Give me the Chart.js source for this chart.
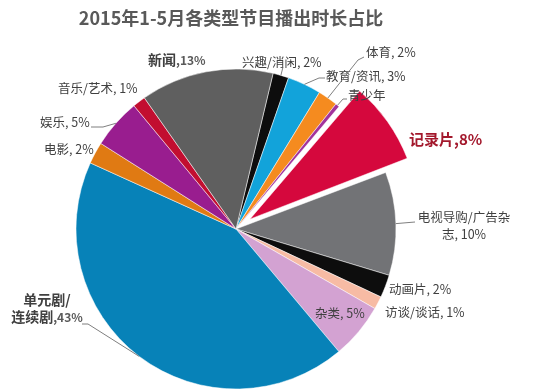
<!DOCTYPE html>
<html>
<head>
<meta charset="utf-8">
<script src="https://cdn.jsdelivr.net/npm/chart.js@4"></script>
<style>
  html, body { margin: 0; padding: 0; background: #fff; }
  #wrap { width: 535px; height: 389px; }
</style>
</head>
<body>
<div id="wrap"><canvas id="pieChart"></canvas></div>
<script>
// data (clockwise from the slice after 新闻)
const categories = ['兴趣/消闲', '教育/资讯', '体育', '青少年', '记录片', '电视导购/广告杂志', '动画片', '访谈/谈话', '杂类', '单元剧/连续剧', '电影', '娱乐', '音乐/艺术', '新闻'];
const shares = [1.6, 3.4, 2.0, 0.4, 8.1, 10.4, 2.3, 1.3, 5.6, 42.8, 2.2, 5.0, 1.3, 13.4];
const pctLabels = ['2%', '3%', '2%', '', '8%', '10%', '2%', '1%', '5%', '43%', '2%', '5%', '1%', '13%'];
const sliceColors = ['#0d0d0d', '#12a3da', '#f58b1f', '#a2339c', '#d5083d', '#727376', '#0d0d0d', '#f7bba4', '#d3a2d2', '#0782b8', '#e07a13', '#991d8f', '#c20e30', '#5f5f5f'];

// label placement, relative to the pie centre
const labelLayout = [
    { at: [6, -167], style: 'normal', leader: [[47, -162]] },
    { at: [90, -153], style: 'normal', leader: [[83, -151], [89, -151]] },
    { at: [130, -177], style: 'normal', leader: [[122, -169], [128, -172]] },
    { at: [112, -134], style: 'normal', leader: [[107, -130], [111, -130]] },
    { at: [173, -90], style: 'highlight' },
    { at: [228, -12], style: 'normal', align: 'center', wrap: 8, leader: [[179, -7]] },
    { at: [153, 60], style: 'normal' },
    { at: [149, 83], style: 'normal' },
    { at: [79, 84], style: 'normal' },
    { at: [-189, 71], style: 'bold', align: 'center', wrap: 4, leader: [[-148, 95], [-154, 95]] },
    { at: [-192, -80], style: 'normal' },
    { at: [-196, -107], style: 'normal', leader: [[-133, -102], [-145, -102]] },
    { at: [-178, -141], style: 'normal' },
    { at: [-88, -169], style: 'bold' }
];

const FONT = '"Noto Sans CJK SC", "Noto Sans", sans-serif';

function segmentsFor(i, text, isLast) {
    const st = labelLayout[i].style;
    const pct = pctLabels[i];
    if (st === 'highlight') {
        return [{ text: text + (isLast && pct ? ',' + pct : ''), font: 'bold 15px ' + FONT, color: '#a3182c' }];
    }
    if (st === 'bold') {
        const segs = [{ text: text, font: 'bold 14px ' + FONT, color: '#404040' }];
        if (isLast && pct) segs.push({ text: ',' + pct, font: 'bold 12px ' + FONT, color: '#595959' });
        return segs;
    }
    return [{ text: text + (isLast && pct ? ', ' + pct : ''), font: '12.5px ' + FONT, color: '#404040' }];
}

function drawRich(ctx, segs, x, y, align) {
    let total = 0;
    segs.forEach(s => { ctx.font = s.font; s.w = ctx.measureText(s.text).width; total += s.w; });
    let cx = align === 'center' ? x - total / 2 : x;
    segs.forEach(s => {
        ctx.font = s.font;
        ctx.fillStyle = s.color;
        ctx.fillText(s.text, cx, y);
        cx += s.w;
    });
}

const pieLabels = {
    id: 'pieLabels',
    afterDatasetsDraw(chart) {
        const ctx = chart.ctx;
        const meta = chart.getDatasetMeta(0);
        const offsets = chart.data.datasets[0].offset;
        ctx.save();
        ctx.textBaseline = 'middle';

        // title
        ctx.font = 'bold 18px ' + FONT;
        ctx.fillStyle = '#595959';
        ctx.textAlign = 'center';
        ctx.fillText('2015年1-5月各类型节目播出时长占比', 231, 18);
        ctx.textAlign = 'left';

        meta.data.forEach((arc, i) => {
            const lay = labelLayout[i];
            const cx = arc.x, cy = arc.y;
            const mid = (arc.startAngle + arc.endAngle) / 2;
            const shift = (offsets[i] || 0) / 4;

            if (lay.leader) {
                const sx = cx + Math.cos(mid) * (arc.outerRadius + shift);
                const sy = cy + Math.sin(mid) * (arc.outerRadius + shift);
                ctx.beginPath();
                ctx.moveTo(sx, sy);
                lay.leader.forEach(p => ctx.lineTo(cx + p[0], cy + p[1]));
                ctx.strokeStyle = '#7f7f7f';
                ctx.lineWidth = 1;
                ctx.stroke();
            }

            const name = categories[i];
            const lines = lay.wrap ? [name.slice(0, lay.wrap), name.slice(lay.wrap)] : [name];
            lines.forEach((ln, k) => {
                const segs = segmentsFor(i, ln, k === lines.length - 1);
                drawRich(ctx, segs, cx + lay.at[0], cy + lay.at[1] + k * 17, lay.align || 'left');
            });
        });
        ctx.restore();
    }
};

document.addEventListener('DOMContentLoaded', function() {
    const ctx = document.getElementById('pieChart');
    new Chart(ctx, {
        type: 'pie',
        data: {
            labels: categories,
            datasets: [{
                data: shares,
                backgroundColor: sliceColors,
                borderColor: '#ffffff',
                borderWidth: 0.5,
                offset: categories.map(c => c === '记录片' ? 68 : 0),
                clip: false
            }]
        },
        options: {
            responsive: true,
            maintainAspectRatio: false,
            animation: false,
            rotation: 13.4,
            radius: 160,
            layout: { padding: { left: 0, right: 63, top: 69, bottom: 0 } },
            plugins: {
                legend: { display: false },
                title: { display: false },
                tooltip: { enabled: false }
            }
        },
        plugins: [pieLabels]
    });
});
</script>
</body>
</html>
